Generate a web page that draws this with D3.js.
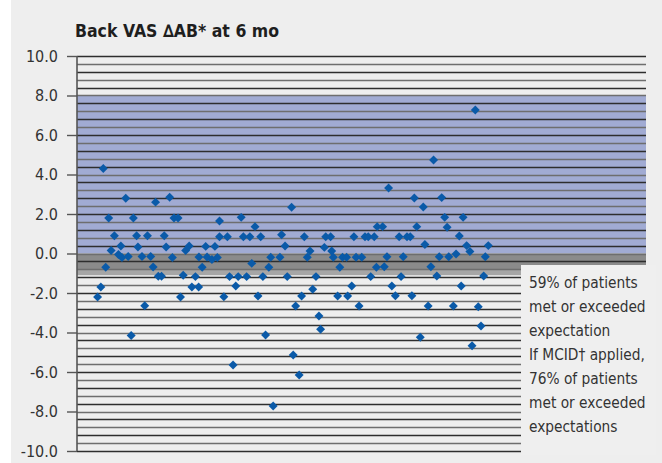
<!DOCTYPE html>
<html>
<head>
<meta charset="utf-8">
<script src="https://cdn.jsdelivr.net/npm/d3@7/dist/d3.min.js"></script>
<style>
  html, body { margin: 0; padding: 0; background: #ffffff; }
  svg { display: block; }
  .cond { font-family: "Liberation Sans Narrow", "DejaVu Sans Condensed", "Arial Narrow", sans-serif; }
</style>
</head>
<body>
<svg id="chart" width="662" height="463"></svg>
<script>
// ---- data ----
const chartTitle = "Back VAS \u2206AB* at 6 mo";
const yTickLabels = ["10.0", "8.0", "6.0", "4.0", "2.0", "0.0", "-2.0", "-4.0", "-6.0", "-8.0", "-10.0"];
const gridStep = 0.4;
// patient position along the (hidden) x axis
const patientPos = [
  7.6, 8.8, 9.7, 10.6, 11.7, 12.6, 13.8, 15.3, 16.2, 16.6,
  18.0, 18.9, 20.0, 20.8, 22.0, 22.5, 24.0, 25.0, 26.0, 27.2,
  28.1, 29.0, 30.0, 31.2, 32.2, 32.9, 34.2, 35.2, 35.8, 37.3,
  38.2, 39.2, 40.1, 41.4, 42.4, 43.7, 44.9, 45.0, 46.2, 47.5,
  48.0, 49.8, 50.9, 51.8, 52.6, 52.6, 54.2, 55.5, 56.3, 57.6,
  58.6, 59.5, 60.6, 61.4, 62.6, 63.8, 64.5, 65.7, 66.8, 67.8,
  68.6, 69.6, 70.8, 71.5, 72.4, 74.9, 75.5, 76.8, 77.6, 79.2,
  79.8, 80.7, 82.0, 82.9, 83.9, 85.0, 86.0, 87.0, 88.2, 89.3,
  89.9, 91.3, 91.8, 93.6, 94.0, 94.6, 96.2, 97.0, 98.0, 99.5,
  99.9, 101.4, 102.2, 103.0, 104.1, 105.1, 106.3, 107.5, 108.4, 109.7,
  110.5, 110.8, 112.8, 113.4, 114.4, 115.0, 116.2, 117.5, 118.9, 119.6,
  120.4, 121.8, 123.0, 123.6, 124.5, 125.4, 126.7, 127.8, 128.4, 129.6,
  130.6, 131.6, 132.8, 133.7, 134.6, 135.7, 136.6, 137.2, 138.9, 139.9,
  141.1, 141.8, 142.5, 143.8, 145.0, 145.8, 147.0, 148.1, 149.1, 150.1,
  150.7, 151.8
];
const deltaVAS = [
  -2.2, -1.7, 4.3, -0.7, 1.8, 0.15, 0.9, -0.05, 0.38, -0.2,
  2.8, -0.15, -4.15, 1.8, 0.9, 0.33, -0.15, -2.65, 0.9, -0.15,
  -0.68, 2.6, -1.15, -1.15, 0.9, 0.33, 2.85, -0.2, 1.8, 1.8,
  -2.2, -1.1, 0.15, 0.38, -1.7, -1.17, -1.7, -0.18, -0.7, 0.36,
  -0.18, -0.3, 0.36, -0.2, 1.65, 0.85, -2.19, 0.85, -1.17, -5.65,
  -1.65, -1.17, 1.83, 0.85, -1.17, 0.85, -0.5, 1.36, -2.15, 0.85,
  -1.17, -4.13, -0.7, -0.19, -7.72, -0.19, 0.95, 0.38, -1.17, 2.34,
  -5.14, -2.66, -6.15, -2.15, 0.85, -0.19, 0.13, -1.81, -1.17, -3.16,
  -3.84, 0.31, 0.85, 0.85, 0.13, -0.19, -2.15, -0.7, -0.19, -0.19,
  -2.15, -1.65, 0.85, -0.19, -2.66, -0.19, 0.85, 0.85, -1.17, 0.85,
  -0.7, 1.36, 1.36, -0.67, -0.16, 3.32, -1.65, -2.14, 0.85, -1.17,
  -0.16, 0.85, 0.85, -2.14, 2.81, 1.36, -4.24, 2.35, 0.46, -2.66,
  -0.67, 4.73, -1.14, -0.16, 2.83, 1.83, 1.33, -0.16, -2.66, -0.03,
  0.89, -1.65, 1.83, 0.4, 0.1, -4.67, 7.27, -2.7, -3.67, -1.14,
  -0.16, 0.4
];
const expectationBand = [0, 8];
const noChangeBand = [-0.8, 0];
const noChangeEdge = [-1.1, -0.8];
const annotationLines = [
  "59% of patients",
  "met or exceeded",
  "expectation",
  "If MCID\u2020 applied,",
  "76% of patients",
  "met or exceeded",
  "expectations"
];

// ---- drawing ----
const svg = d3.select("#chart");
const W = 662, H = 463;
const plot = { left: 77, right: 646, top: 56, bottom: 451 };

svg.append("rect").attr("x", 11).attr("y", 0).attr("width", W - 11).attr("height", H).attr("fill", "#eeeeee");

const yTicks = yTickLabels.map(Number);
const y = d3.scaleLinear().domain([d3.min(yTicks), d3.max(yTicks)]).range([plot.bottom, plot.top]);
const x = d3.scaleLinear().domain([0, 210]).range([plot.left, plot.right]);

// bands
function band(range, color) {
  svg.append("rect")
    .attr("x", plot.left).attr("width", plot.right - plot.left)
    .attr("y", y(range[1])).attr("height", y(range[0]) - y(range[1]))
    .attr("fill", color);
}
band(expectationBand, "#a1abd3");
band(noChangeBand, "#8b8b8b");
band(noChangeEdge, "#a6a6a6");

// gridlines
const gridVals = d3.range(0, Math.round((y.domain()[1] - y.domain()[0]) / gridStep) + 1)
  .map(i => y.domain()[0] + i * gridStep);
svg.append("g").selectAll("line").data(gridVals).join("line")
  .attr("x1", plot.left).attr("x2", plot.right)
  .attr("y1", d => Math.round(y(d)) + 0.5).attr("y2", d => Math.round(y(d)) + 0.5)
  .attr("stroke", (d, i) => (i % 2 === 0 ? "#2e2e2e" : "#6e6e6e"))
  .attr("stroke-width", 1.3);

// y axis
const yAxis = d3.axisLeft(y).tickValues(yTicks).tickSize(10).tickPadding(9)
  .tickFormat((d, i) => yTickLabels[i]);
const gy = svg.append("g").attr("transform", `translate(${plot.left},0)`).call(yAxis);
gy.select(".domain").attr("stroke", "#555").attr("stroke-width", 1.6).attr("d", `M0,${plot.top}V${plot.bottom}`);
gy.selectAll(".tick line").attr("stroke", "#555").attr("stroke-width", 1.4);
gy.selectAll(".tick text")
  .attr("class", "cond")
  .attr("font-size", 16)
  .attr("fill", "#333");

// points (diamonds)
const diamond = d3.symbol().type(d3.symbolSquare).size(40);
svg.append("g").selectAll("path").data(patientPos.map((p, i) => [p, deltaVAS[i]])).join("path")
  .attr("d", diamond)
  .attr("transform", d => `translate(${x(d[0])},${y(d[1])}) rotate(45)`)
  .attr("fill", "#0a5aa8");

// annotation box
svg.append("rect").attr("x", 521).attr("y", 265).attr("width", 135).attr("height", 190).attr("fill", "#efefef");
svg.append("g").selectAll("text").data(annotationLines).join("text")
  .attr("class", "cond")
  .attr("x", 529)
  .attr("y", (d, i) => 288 + i * 24)
  .attr("font-size", 15.3)
  .attr("fill", "#333")
  .text(d => d);

// title
svg.append("text").attr("class", "cond")
  .attr("x", 75).attr("y", 37)
  .attr("font-size", 17.5).attr("font-weight", "bold").attr("fill", "#1e1e1e")
  .text(chartTitle);
</script>
</body>
</html>
